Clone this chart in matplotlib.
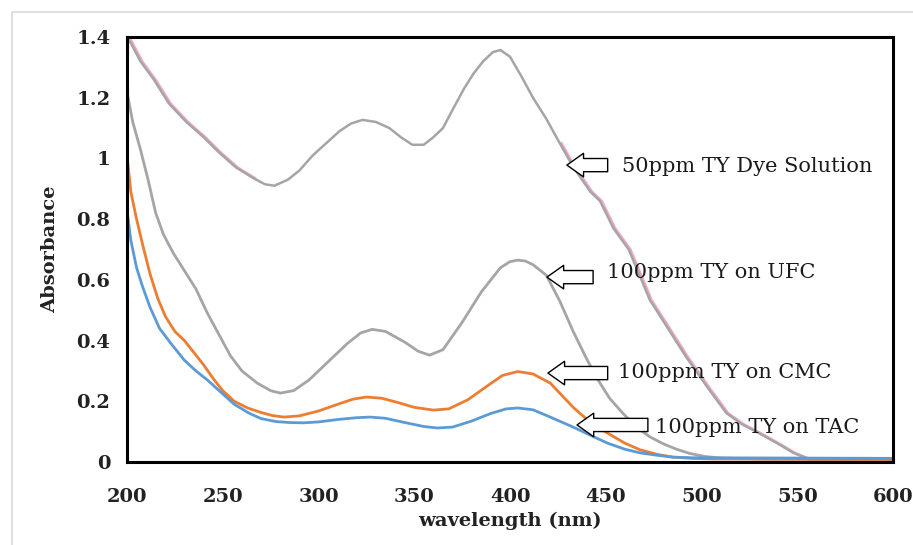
import numpy as np
import matplotlib.pyplot as plt
from matplotlib.patches import Rectangle

# UV-Vis spectra
dye_wl = [200, 202, 207, 214, 222, 231, 240, 248, 257, 266, 272, 277, 284, 290,
          297, 304, 311, 317, 323, 330, 337, 343, 349, 355, 360, 365, 370, 376,
          381, 386, 391, 395, 400, 406, 412, 419, 426, 433, 442, 447, 454, 462,
          468, 473, 482, 492, 503, 513, 521, 530, 540, 548, 555, 558, 565, 600]
dye_abs = [1.40, 1.38, 1.32, 1.26, 1.18, 1.12, 1.07, 1.02, 0.97, 0.935, 0.915,
           0.91, 0.93, 0.96, 1.01, 1.05, 1.09, 1.115, 1.127, 1.12, 1.10, 1.07,
           1.045, 1.045, 1.07, 1.10, 1.16, 1.23, 1.28, 1.32, 1.35, 1.357, 1.335,
           1.27, 1.20, 1.13, 1.05, 0.972, 0.89, 0.86, 0.77, 0.70, 0.61, 0.534,
           0.445, 0.346, 0.247, 0.161, 0.125, 0.095, 0.06, 0.03, 0.012, 0.0,
           0.008, 0.005]

ufc_wl = [200, 203, 207, 211, 215, 219, 224, 230, 236, 242, 248, 254, 260, 268,
          275, 280, 287, 295, 305, 315, 322, 328, 335, 345, 352, 358, 365, 375,
          385, 395, 400, 404, 408, 412, 419, 426, 433, 440, 446, 452, 459, 466,
          473, 480, 487, 494, 502, 510, 530, 600]
ufc_abs = [1.22, 1.12, 1.03, 0.93, 0.82, 0.75, 0.69, 0.63, 0.57, 0.49, 0.42,
           0.35, 0.30, 0.26, 0.235, 0.227, 0.235, 0.27, 0.33, 0.39, 0.425,
           0.437, 0.43, 0.395, 0.365, 0.352, 0.37, 0.46, 0.56, 0.64, 0.66,
           0.665, 0.662, 0.65, 0.615, 0.53, 0.43, 0.34, 0.27, 0.21, 0.16,
           0.115, 0.083, 0.06, 0.042, 0.028, 0.018, 0.013, 0.01, 0.008]

cmc_wl = [200, 202, 205, 208, 212, 216, 220, 225, 230, 235, 240, 245, 250, 256,
          263, 270, 276, 282, 290, 300, 310, 318, 325, 333, 342, 350, 360, 368,
          378, 388, 396, 404, 412, 421, 427, 433, 442, 451, 460, 468, 477, 485,
          495, 505, 600]
cmc_abs = [1.01, 0.89, 0.80, 0.72, 0.62, 0.54, 0.48, 0.43, 0.40, 0.36, 0.32,
           0.275, 0.235, 0.20, 0.178, 0.163, 0.153, 0.148, 0.152, 0.168, 0.19,
           0.207, 0.214, 0.21, 0.195, 0.18, 0.171, 0.175, 0.205, 0.25, 0.285,
           0.298, 0.29, 0.26, 0.22, 0.18, 0.13, 0.095, 0.062, 0.04, 0.025,
           0.016, 0.012, 0.01, 0.008]

tac_wl = [200, 202, 205, 208, 212, 217, 223, 230, 236, 242, 249, 256, 264, 270,
          278, 285, 292, 300, 310, 320, 327, 335, 345, 355, 362, 370, 380, 390,
          398, 404, 412, 421, 433, 442, 451, 460, 468, 477, 485, 495, 600]
tac_abs = [0.83, 0.73, 0.64, 0.58, 0.51, 0.44, 0.39, 0.335, 0.30, 0.27, 0.23,
           0.19, 0.16, 0.143, 0.133, 0.13, 0.129, 0.132, 0.14, 0.146, 0.148,
           0.144, 0.13, 0.117, 0.112, 0.115, 0.135, 0.16, 0.175, 0.178, 0.172,
           0.148, 0.115, 0.088, 0.062, 0.042, 0.03, 0.022, 0.016, 0.014, 0.012]

labels = ["50ppm TY Dye Solution", "100ppm TY on UFC",
          "100ppm TY on CMC", "100ppm TY on TAC"]
arrow_tip = [(429.7, 0.978), (419.3, 0.609), (419.8, 0.293), (435.0, 0.122)]
arrow_tail = [(451.0, 0.978), (443.4, 0.609), (451.0, 0.293), (472.0, 0.122)]
label_pos = [(458.4, 0.972), (450.6, 0.623), (456.4, 0.296), (475.7, 0.115)]

GRAY = "#A5A5A5"
ORANGE = "#ED7D31"
BLUE = "#5B9BD5"
PINK = "#F4A6C8"

fig = plt.figure(figsize=(9.13, 5.45), dpi=100)
fig.patches.append(Rectangle((12 / 913, -0.1), 1.2, 1 - 12 / 545 + 0.1,
                             transform=fig.transFigure, fill=False,
                             ec="#D9D9D9", lw=1.2))
ax = fig.add_axes([127 / 913, 1 - 462 / 545, 766 / 913, 425 / 545])

dye_wl_a = np.array(dye_wl)
dye_abs_a = np.array(dye_abs)
for lo, hi in [(200, 266), (424, 568)]:
    m = (dye_wl_a >= lo) & (dye_wl_a <= hi)
    ax.plot(dye_wl_a[m] + 1.0, dye_abs_a[m], color=PINK, lw=1.6,
            solid_joinstyle="round")
ax.plot(dye_wl, dye_abs, color=GRAY, lw=1.8, solid_joinstyle="round")
ax.plot(ufc_wl, ufc_abs, color=GRAY, lw=2.0, solid_joinstyle="round")
ax.plot(cmc_wl, cmc_abs, color=ORANGE, lw=2.0, solid_joinstyle="round")
ax.plot(tac_wl, tac_abs, color=BLUE, lw=2.0, solid_joinstyle="round")

for tip, tail, pos, lab in zip(arrow_tip, arrow_tail, label_pos, labels):
    ax.annotate("", xy=tip, xytext=tail,
                arrowprops=dict(arrowstyle="simple,head_length=1.2,head_width=1.7,tail_width=0.95",
                                fc="white", ec="black", lw=1.0,
                                shrinkA=0, shrinkB=0, mutation_scale=10))
    ax.text(pos[0], pos[1], lab, family="DejaVu Serif", fontsize=15,
            color="#1a1a1a", va="center", ha="left")

ax.set_xlim(200, 600)
ax.set_ylim(0, 1.4)
ax.set_xticks(np.arange(200, 601, 50))
ax.set_yticks([0, 0.2, 0.4, 0.6, 0.8, 1.0, 1.2, 1.4])
ax.set_yticklabels(["0", "0.2", "0.4", "0.6", "0.8", "1", "1.2", "1.4"])
ax.tick_params(length=0, labelsize=14)
ax.tick_params(axis="x", pad=19)
ax.tick_params(axis="y", pad=12)
for lab in ax.get_xticklabels() + ax.get_yticklabels():
    lab.set_family("DejaVu Serif")
    lab.set_fontweight("bold")
    lab.set_color("#222222")
for s in ax.spines.values():
    s.set_linewidth(2.2)
    s.set_color("black")

ax.set_xlabel("wavelength (nm)", family="DejaVu Serif", fontweight="bold",
              fontsize=14, labelpad=4, color="#222222")
ax.set_ylabel("Absorbance", family="DejaVu Serif", fontweight="bold",
              fontsize=14, labelpad=12, color="#222222")

fig.savefig("out.png", dpi=100)
